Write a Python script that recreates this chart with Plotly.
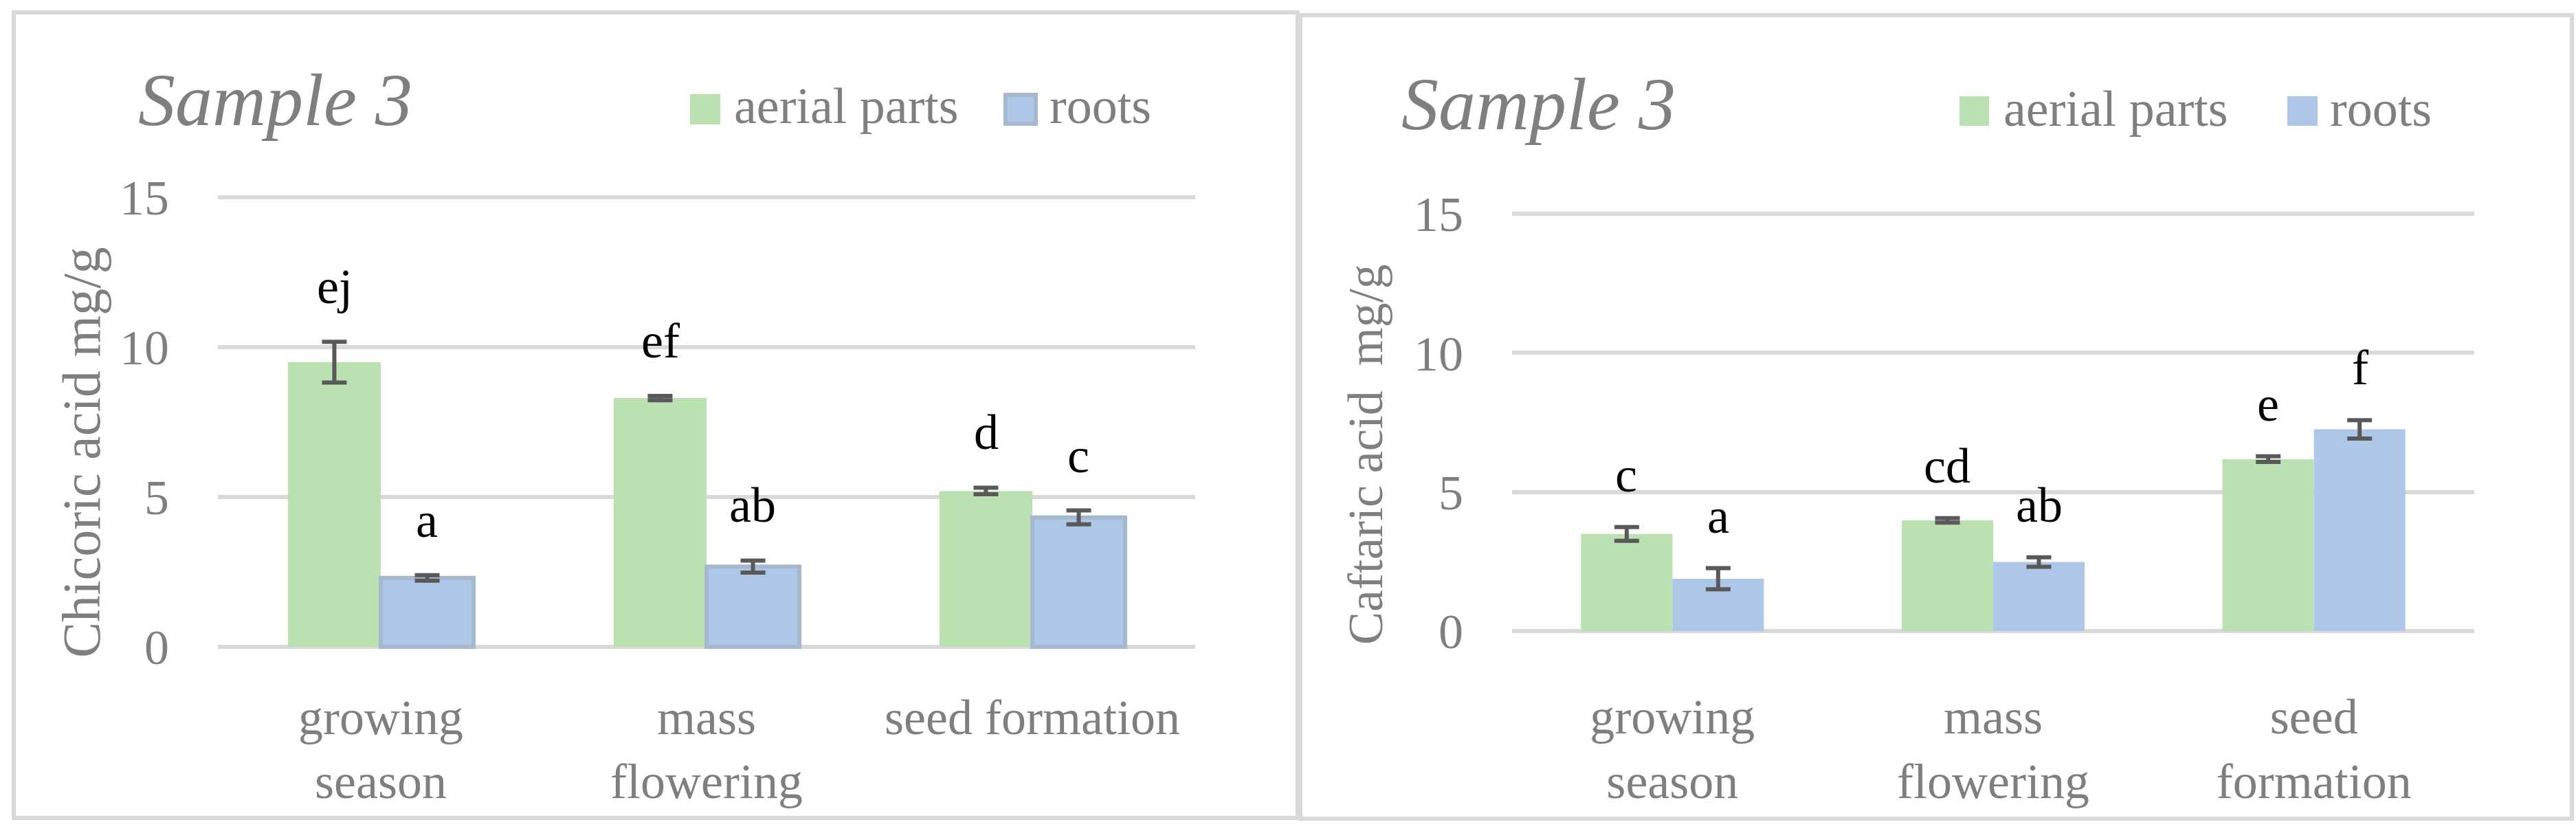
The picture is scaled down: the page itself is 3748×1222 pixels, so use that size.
import plotly.graph_objects as go
from plotly.subplots import make_subplots

# data
stages_left = ["growing<br>season", "mass<br>flowering", "seed formation"]
stages_right = ["growing<br>season", "mass<br>flowering", "seed<br>formation"]

chicoric_aerial = [9.50, 8.30, 5.20]
chicoric_aerial_err = [0.68, 0.07, 0.11]
chicoric_roots = [2.30, 2.68, 4.32]
chicoric_roots_err = [0.09, 0.20, 0.23]
chicoric_aerial_letters = ["ej", "ef", "d"]
chicoric_roots_letters = ["a", "ab", "c"]

caftaric_aerial = [3.49, 3.98, 6.18]
caftaric_aerial_err = [0.25, 0.08, 0.10]
caftaric_roots = [1.88, 2.48, 7.25]
caftaric_roots_err = [0.38, 0.17, 0.33]
caftaric_aerial_letters = ["c", "cd", "e"]
caftaric_roots_letters = ["a", "ab", "f"]

y_ticks = [0, 5, 10, 15]

W, H = 3748, 1222
FONT = "Liberation Serif, Times New Roman, serif"
GRAY = "#7f7f7f"
GRID = "#d9d9d9"
GREEN = "#bbe1b3"
BLUE = "#aec7e8"
BLUE_EDGE = "#a6b8cd"
ERR = "#595959"


def px_x(p):
    return p / W


def px_y(p):
    return 1 - p / H


fig = make_subplots(rows=1, cols=2)

# left panel - chicoric acid
fig.add_trace(go.Bar(x=stages_left, y=chicoric_aerial, name="aerial parts",
                     marker=dict(color=GREEN, line=dict(width=0)),
                     error_y=dict(type="data", array=chicoric_aerial_err, color=ERR,
                                  thickness=6, width=18)), row=1, col=1)
fig.add_trace(go.Bar(x=stages_left, y=chicoric_roots, name="roots",
                     marker=dict(color=BLUE, line=dict(color=BLUE_EDGE, width=6)),
                     error_y=dict(type="data", array=chicoric_roots_err, color=ERR,
                                  thickness=6, width=18)), row=1, col=1)

# right panel - caftaric acid
fig.add_trace(go.Bar(x=stages_right, y=caftaric_aerial, name="aerial parts",
                     marker=dict(color=GREEN, line=dict(width=0)),
                     error_y=dict(type="data", array=caftaric_aerial_err, color=ERR,
                                  thickness=6, width=18)), row=1, col=2)
fig.add_trace(go.Bar(x=stages_right, y=caftaric_roots, name="roots",
                     marker=dict(color=BLUE, line=dict(width=0)),
                     error_y=dict(type="data", array=caftaric_roots_err, color=ERR,
                                  thickness=6, width=18)), row=1, col=2)

fig.update_traces(showlegend=False, hoverinfo="skip")

fig.update_layout(
    template="none",
    width=W, height=H,
    margin=dict(l=0, r=0, t=0, b=0, pad=0, autoexpand=False),
    paper_bgcolor="white", plot_bgcolor="white",
    barmode="group", bargap=0.43, bargroupgap=0,
    font=dict(family=FONT, color=GRAY, size=72),
    showlegend=False,
)

axis_common = dict(showline=False, ticks="", automargin=False,
                   tickfont=dict(family=FONT, size=72, color=GRAY))
fig.update_xaxes(**axis_common, showgrid=False, zeroline=False)
fig.update_yaxes(**axis_common, range=[-0.08, 15.08], tickvals=y_ticks,
                 showgrid=True, gridcolor=GRID, gridwidth=6,
                 zeroline=True, zerolinecolor=GRID, zerolinewidth=6,
                 ticklabelstandoff=70)

fig.update_xaxes(domain=[px_x(317), px_x(1739)], ticklabelstandoff=50, row=1, col=1)
fig.update_xaxes(domain=[px_x(2200), px_x(3600)], ticklabelstandoff=73, row=1, col=2)
fig.update_yaxes(domain=[px_y(944.5), px_y(283.5)], row=1, col=1)
fig.update_yaxes(domain=[px_y(921.2), px_y(307.8)], row=1, col=2)

annotations = []

# significance letters above the error bars
def add_letters(xref, yref, cats, vals, errs, letters, xshift, yshift):
    for c, v, e, t in zip(cats, vals, errs, letters):
        annotations.append(dict(x=c, y=v + e, xref=xref, yref=yref, text=t,
                                showarrow=False, xanchor="center", yanchor="bottom",
                                xshift=xshift, yshift=yshift,
                                font=dict(family=FONT, size=72, color="black")))


add_letters("x", "y", stages_left, chicoric_aerial, chicoric_aerial_err, chicoric_aerial_letters, -67, 38)
add_letters("x", "y", stages_left, chicoric_roots, chicoric_roots_err, chicoric_roots_letters, 67, 38)
add_letters("x2", "y2", stages_right, caftaric_aerial, caftaric_aerial_err, caftaric_aerial_letters, -67, 34)
add_letters("x2", "y2", stages_right, caftaric_roots, caftaric_roots_err, caftaric_roots_letters, 67, 34)

# panel titles
annotations.append(dict(x=px_x(199), y=px_y(145.5), xref="paper", yref="paper", text="<i>Sample 3</i>",
                        showarrow=False, xanchor="left", yanchor="middle",
                        font=dict(family=FONT, size=108, color=GRAY)))
annotations.append(dict(x=px_x(2037), y=px_y(151.5), xref="paper", yref="paper", text="<i>Sample 3</i>",
                        showarrow=False, xanchor="left", yanchor="middle",
                        font=dict(family=FONT, size=108, color=GRAY)))

# y axis titles
annotations.append(dict(x=px_x(118), y=px_y(658), xref="paper", yref="paper", text="Chicoric acid mg/g",
                        showarrow=False, textangle=-90, xanchor="center", yanchor="middle",
                        font=dict(family=FONT, size=78, color=GRAY)))
annotations.append(dict(x=px_x(1987), y=px_y(661), xref="paper", yref="paper",
                        text="Caftaric acid\u00a0 mg/g",
                        showarrow=False, textangle=-90, xanchor="center", yanchor="middle",
                        font=dict(family=FONT, size=72, color=GRAY)))

# legend text
for x0, yc, t in [(1066, 154, "aerial parts"), (1525, 154, "roots"),
                  (2913, 158, "aerial parts"), (3388, 158, "roots")]:
    annotations.append(dict(x=px_x(x0), y=px_y(yc), xref="paper", yref="paper", text=t,
                            showarrow=False, xanchor="left", yanchor="middle",
                            font=dict(family=FONT, size=74, color=GRAY)))

fig.update_layout(annotations=annotations)

shapes = []
# panel frames
for x0, y0, x1, y1 in [(20, 18, 1888, 1190), (1892, 22, 3742, 1191)]:
    shapes.append(dict(type="rect", xref="paper", yref="paper",
                       x0=px_x(x0), x1=px_x(x1), y0=px_y(y1), y1=px_y(y0),
                       line=dict(color=GRID, width=6), fillcolor="rgba(0,0,0,0)", layer="below"))
# legend swatches
shapes.append(dict(type="rect", xref="paper", yref="paper", x0=px_x(1004), x1=px_x(1048),
                   y0=px_y(181), y1=px_y(137), line=dict(width=0), fillcolor=GREEN))
shapes.append(dict(type="rect", xref="paper", yref="paper", x0=px_x(1463), x1=px_x(1507),
                   y0=px_y(180), y1=px_y(138), line=dict(color=BLUE_EDGE, width=6), fillcolor=BLUE))
shapes.append(dict(type="rect", xref="paper", yref="paper", x0=px_x(2851), x1=px_x(2894),
                   y0=px_y(183), y1=px_y(140), line=dict(width=0), fillcolor=GREEN))
shapes.append(dict(type="rect", xref="paper", yref="paper", x0=px_x(3328), x1=px_x(3372),
                   y0=px_y(183), y1=px_y(140), line=dict(width=0), fillcolor=BLUE))
fig.update_layout(shapes=shapes)

# drop the default page margin so the figure sits at the window corner
fig.write_html("out.html", config={"displayModeBar": False},
               post_script="document.body.style.margin='0';")
